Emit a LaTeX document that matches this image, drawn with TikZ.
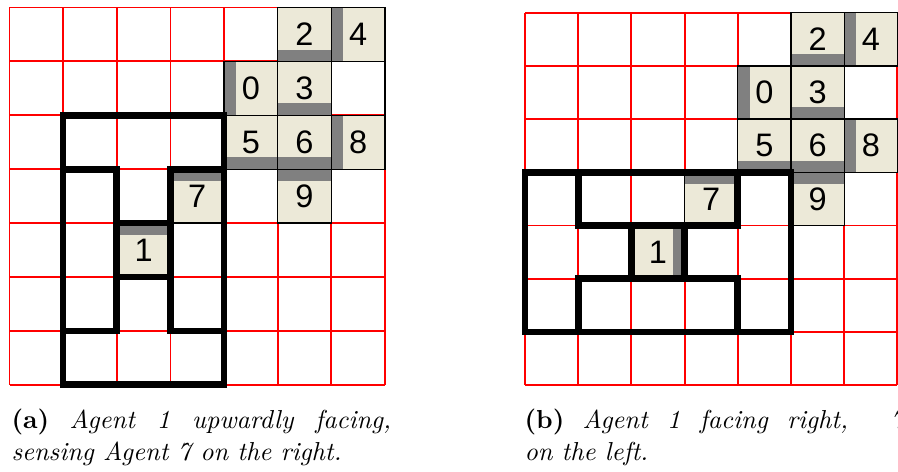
\documentclass[tikz,border=0pt]{standalone}
\usepackage{fontspec}
\newfontfamily\digitfont{Liberation Sans}
\usepackage{xcolor}
\usepackage{tikz}

\definecolor{cellbeige}{HTML}{ECE9D8}
\definecolor{bargrey}{HTML}{808080}

\begin{document}
\begin{tikzpicture}[
    x=0.3846pt, y=-0.3846pt,
    gridline/.style={red, line width=0.7pt},
    cellfill/.style={fill=cellbeige},
    cellline/.style={draw=black, line width=0.5pt},
    facebar/.style={fill=bargrey},
    sensor/.style={draw=black, line width=2.55pt, line join=miter},
    digit/.style={font=\digitfont\fontsize{12.5}{12.5}\selectfont, inner sep=0pt},
    caption/.style={anchor=base west, inner sep=0pt}
  ]
    \useasboundingbox (0,0) rectangle (898,472);
    \clip (0,0) rectangle (898,472);

    % (a) agent 1 facing up
    \begin{scope}[shift={(9.5,7.5)}, x=20.63pt, y=-20.73pt]
      \foreach \i in {0,...,7} {
        \draw[gridline] (\i,0) -- (\i,7);
        \draw[gridline] (0,\i) -- (7,\i);
      }
      \foreach \c/\r in {5/0, 6/0, 4/1, 5/1, 4/2, 5/2, 6/2, 5/3, 3/3, 2/4}
        \fill[cellfill] (\c,\r) rectangle +(1,1);
      % facing bars
      \foreach \c/\r in {5/0, 5/1, 4/2, 5/2}
        \fill[facebar] (\c,\r+.78) rectangle (\c+1,\r+1);
      \foreach \c/\r in {6/0, 4/1, 6/2}
        \fill[facebar] (\c,\r) rectangle (\c+.22,\r+1);
      \foreach \c/\r in {5/3, 3/3, 2/4}
        \fill[facebar] (\c,\r) rectangle (\c+1,\r+.22);
      \foreach \c/\r in {5/0, 6/0, 4/1, 5/1, 4/2, 5/2, 6/2, 5/3, 3/3, 2/4}
        \draw[cellline] (\c,\r) rectangle +(1,1);
      \draw[cellline] (7,1) -- (7,2);
      \foreach \c/\r/\n in {5/0/2, 6/0/4, 4/1/0, 5/1/3, 4/2/5, 5/2/6, 6/2/8, 5/3/9, 3/3/7, 2/4/1}
        \node[digit] (a\n) at (\c+.5,\r+.5) {\n};
      % sensor fields
      \draw[sensor] (1,2) rectangle (4,7);
      \draw[sensor] (1,3) rectangle (2,6);
      \draw[sensor] (3,3) rectangle (4,6);
      \draw[sensor] (2,4) rectangle (3,5);
    \end{scope}

    % (b) agent 1 facing right
    \begin{scope}[shift={(525,12.7)}, x=20.46pt, y=-20.46pt]
      \foreach \i in {0,...,7} {
        \draw[gridline] (\i,0) -- (\i,7);
        \draw[gridline] (0,\i) -- (7,\i);
      }
      \foreach \c/\r in {5/0, 6/0, 4/1, 5/1, 4/2, 5/2, 6/2, 5/3, 3/3, 2/4}
        \fill[cellfill] (\c,\r) rectangle +(1,1);
      % facing bars
      \foreach \c/\r in {5/0, 5/1, 4/2, 5/2}
        \fill[facebar] (\c,\r+.78) rectangle (\c+1,\r+1);
      \foreach \c/\r in {6/0, 4/1, 6/2}
        \fill[facebar] (\c,\r) rectangle (\c+.22,\r+1);
      \foreach \c/\r in {5/3, 3/3}
        \fill[facebar] (\c,\r) rectangle (\c+1,\r+.22);
      \fill[facebar] (2.78,4) rectangle (3,5);
      \foreach \c/\r in {5/0, 6/0, 4/1, 5/1, 4/2, 5/2, 6/2, 5/3, 3/3, 2/4}
        \draw[cellline] (\c,\r) rectangle +(1,1);
      \foreach \c/\r/\n in {5/0/2, 6/0/4, 4/1/0, 5/1/3, 4/2/5, 5/2/6, 6/2/8, 5/3/9, 3/3/7, 2/4/1}
        \node[digit] (b\n) at (\c+.5,\r+.5) {\n};
      % sensor fields
      \draw[sensor] (0,3) rectangle (5,6);
      \draw[sensor] (1,3) rectangle (4,4);
      \draw[sensor] (2,4) rectangle (3,5);
      \draw[sensor] (1,5) rectangle (4,6);
    \end{scope}

    \node[caption] (capa) at (11,429) {\parbox[t]{146pt}{\sloppy
      \textbf{(a)} \textit{Agent 1 upwardly facing, sensing Agent 7 on the right.}}};
    \node[caption] (capb) at (524,429) {\parbox[t]{146pt}{\sloppy
      \textbf{(b)} \textit{Agent 1 facing right,\hspace{8pt} 7\linebreak on the left.}}};
\end{tikzpicture}
\end{document}
